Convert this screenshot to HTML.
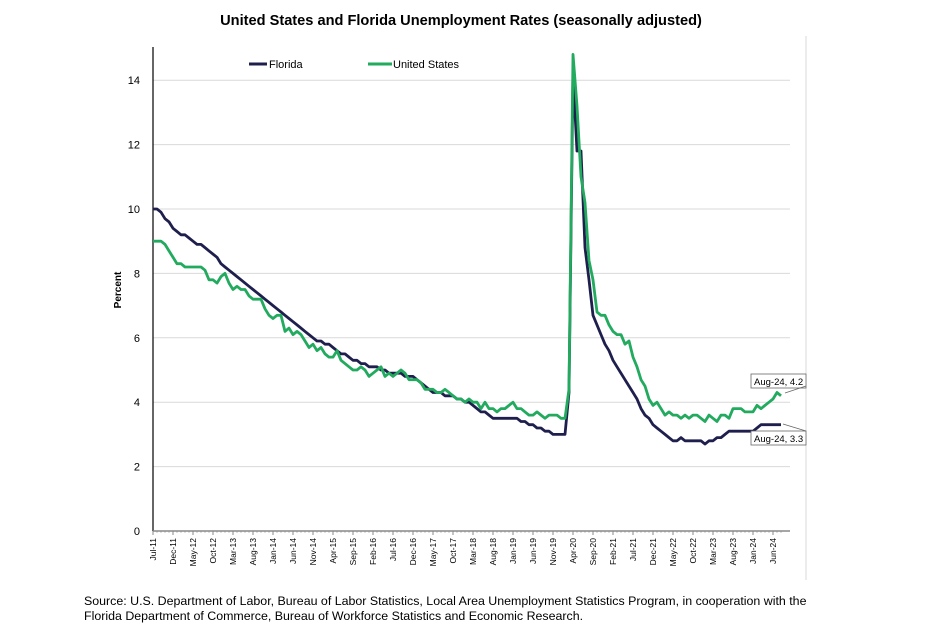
<!DOCTYPE html>
<html><head><meta charset="utf-8"><style>
body{margin:0;background:#fff;width:929px;height:632px;overflow:hidden;font-family:"Liberation Sans",sans-serif}
</style></head><body>
<svg id="s" width="929" height="632" xmlns="http://www.w3.org/2000/svg" font-family="Liberation Sans, sans-serif">
<rect x="0" y="0" width="929" height="632" fill="#fff"/>
<line x1="806" y1="36" x2="806" y2="580" stroke="#d9d9d9" stroke-width="1"/>
<text x="461" y="25" text-anchor="middle" font-size="14.6" font-weight="bold">United States and Florida Unemployment Rates (seasonally adjusted)</text>
<text x="121" y="290" text-anchor="middle" font-size="10" font-weight="bold" transform="rotate(-90 121 290)">Percent</text>
<g id="grid"></g>
<g id="lines"></g>
<line x1="249" y1="64" x2="267" y2="64" stroke="#1f1f4e" stroke-width="3"/>
<text x="269" y="68" font-size="11">Florida</text>
<line x1="368" y1="64" x2="392" y2="64" stroke="#22aa5e" stroke-width="3"/>
<text x="393" y="68" font-size="11">United States</text>
<rect x="751" y="374" width="55" height="14" fill="#fff" stroke="#666" stroke-width="0.8"/>
<text x="754" y="385" font-size="9.5">Aug-24, 4.2</text>
<line x1="785" y1="393" x2="806" y2="386" stroke="#666" stroke-width="0.8"/>
<rect x="751" y="431" width="55" height="14" fill="#fff" stroke="#666" stroke-width="0.8"/>
<text x="754" y="442" font-size="9.5">Aug-24, 3.3</text>
<line x1="783" y1="424" x2="806" y2="431" stroke="#666" stroke-width="0.8"/>
<text x="84" y="605" font-size="12.4">Source:  U.S. Department of Labor, Bureau of Labor Statistics, Local Area Unemployment Statistics Program, in cooperation with the</text>
<text x="84" y="620" font-size="12.4">Florida Department of Commerce, Bureau of Workforce Statistics and Economic Research.</text>
</svg>
<script>
var NS="http://www.w3.org/2000/svg";
function Y(v){return 531-v*32.2;}
function X(t){return 153+t*4;}
var g=document.getElementById('grid'),L=document.getElementById('lines');
function el(p,tag,a,txt){var e=document.createElementNS(NS,tag);for(var k in a)e.setAttribute(k,a[k]);if(txt!=null)e.textContent=txt;p.appendChild(e);return e;}
for(var v=2;v<=14;v+=2){el(g,'line',{x1:153,x2:790,y1:Y(v),y2:Y(v),stroke:'#d9d9d9','stroke-width':1});}
for(var v=0;v<=14;v+=2){el(g,'text',{x:140,y:Y(v)+4,'text-anchor':'end','font-size':11},String(v));}
el(g,'line',{x1:153,x2:153,y1:47,y2:531,stroke:'#000','stroke-width':1.2});
el(g,'line',{x1:153,x2:790,y1:531,y2:531,stroke:'#888','stroke-width':1.5});
var mn=['Jan','Feb','Mar','Apr','May','Jun','Jul','Aug','Sep','Oct','Nov','Dec'];
for(var t=0;t<=157;t++){el(g,'line',{x1:X(t),x2:X(t),y1:531,y2:t%5==0?535:533,stroke:'#888','stroke-width':t%5==0?1:0.5});
 if(t%5==0&&t<=155){var m=(6+t)%12,yr=11+Math.floor((6+t)/12);var x=X(t)+3,y=538;
 el(g,'text',{x:x,y:y,'text-anchor':'end','font-size':8.5,transform:'rotate(-90 '+x+' '+y+')'},mn[m]+'-'+yr);}}
function interp(a){var out=[];for(var i=0;i<a.length-1;i++){var t0=a[i][0],v0=a[i][1],t1=a[i+1][0],v1=a[i+1][1];for(var t=t0;t<t1;t++)out.push([t,Math.round((v0+(v1-v0)*(t-t0)/(t1-t0))*10)/10]);}out.push(a[a.length-1]);return out;}
var fl=interp([[0,10],[1,10],[3,9.7],[5,9.4],[11,8.9],[12,8.9],[20,8.0],[30,7.0],[40,6.0],[45,5.7],[50,5.3],[55,5.1],[60,4.9],[65,4.8],[70,4.3],[75,4.2],[80,3.9],[85,3.5],[90,3.5],[95,3.3],[100,3.0],[103,3.0],[104,4.3],[105,14.2],[106,11.8],[107,11.8],[108,8.8],[110,6.7],[113,5.8],[115,5.3],[117,4.9],[120,4.3],[122,3.8],[125,3.3],[128,3.0],[130,2.8],[131,2.8],[132,2.9],[133,2.8],[137,2.8],[138,2.7],[140,2.8],[143,3.0],[145,3.1],[150,3.1],[152,3.3],[157,3.3]]);
var us=[[0,9],[1,9],[2,9],[3,8.9],[4,8.7],[5,8.5],[6,8.3],[7,8.3],[8,8.2],[9,8.2],[10,8.2],[11,8.2],[12,8.2],[13,8.1],[14,7.8],[15,7.8],[16,7.7],[17,7.9],[18,8.0],[19,7.7],[20,7.5],[21,7.6],[22,7.5],[23,7.5],[24,7.3],[25,7.2],[26,7.2],[27,7.2],[28,6.9],[29,6.7],[30,6.6],[31,6.7],[32,6.7],[33,6.2],[34,6.3],[35,6.1],[36,6.2],[37,6.1],[38,5.9],[39,5.7],[40,5.8],[41,5.6],[42,5.7],[43,5.5],[44,5.4],[45,5.4],[46,5.6],[47,5.3],[48,5.2],[49,5.1],[50,5.0],[51,5.0],[52,5.1],[53,5.0],[54,4.8],[55,4.9],[56,5.0],[57,5.1],[58,4.8],[59,4.9],[60,4.8],[61,4.9],[62,5.0],[63,4.9],[64,4.7],[65,4.7],[66,4.7],[67,4.6],[68,4.4],[69,4.4],[70,4.4],[71,4.3],[72,4.3],[73,4.4],[74,4.3],[75,4.2],[76,4.1],[77,4.1],[78,4.0],[79,4.1],[80,4.0],[81,4.0],[82,3.8],[83,4.0],[84,3.8],[85,3.8],[86,3.7],[87,3.8],[88,3.8],[89,3.9],[90,4.0],[91,3.8],[92,3.8],[93,3.7],[94,3.6],[95,3.6],[96,3.7],[97,3.6],[98,3.5],[99,3.6],[100,3.6],[101,3.6],[102,3.5],[103,3.5],[104,4.4],[105,14.8],[106,13.2],[107,11.0],[108,10.2],[109,8.4],[110,7.8],[111,6.8],[112,6.7],[113,6.7],[114,6.4],[115,6.2],[116,6.1],[117,6.1],[118,5.8],[119,5.9],[120,5.4],[121,5.1],[122,4.7],[123,4.5],[124,4.1],[125,3.9],[126,4.0],[127,3.8],[128,3.6],[129,3.7],[130,3.6],[131,3.6],[132,3.5],[133,3.6],[134,3.5],[135,3.6],[136,3.6],[137,3.5],[138,3.4],[139,3.6],[140,3.5],[141,3.4],[142,3.6],[143,3.6],[144,3.5],[145,3.8],[146,3.8],[147,3.8],[148,3.7],[149,3.7],[150,3.7],[151,3.9],[152,3.8],[153,3.9],[154,4.0],[155,4.1],[156,4.3],[157,4.2]];
function pl(d,c){el(L,'polyline',{points:d.map(function(p){return X(p[0])+','+Y(p[1]).toFixed(1)}).join(' '),fill:'none',stroke:c,'stroke-width':2.8,'stroke-linejoin':'round'});}
pl(fl,'#1f1f4e');pl(us,'#22aa5e');
</script>
</body></html>
